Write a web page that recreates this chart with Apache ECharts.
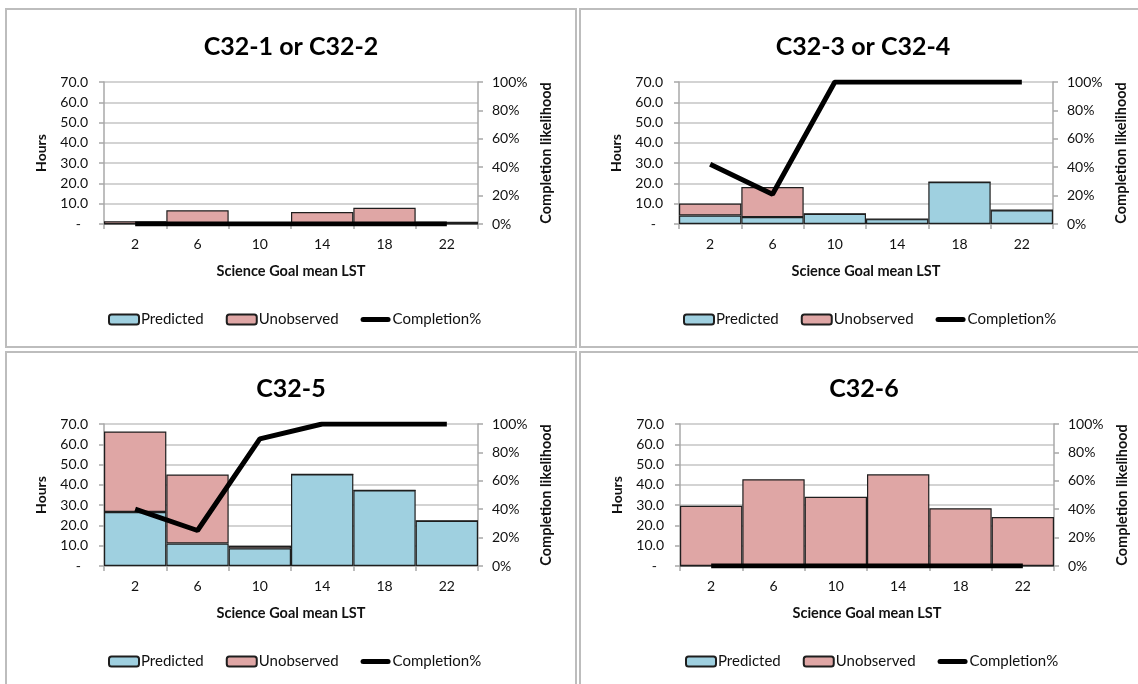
<!DOCTYPE html>
<html>
<head>
<meta charset="utf-8">
<title>Science Goal completion by mean LST</title>
<script src="https://cdn.jsdelivr.net/npm/echarts@6/dist/echarts.min.js"></script>
<style>
  html, body { margin: 0; padding: 0; background: #fff; }
  #chart { width: 1138px; height: 684px; }
</style>
</head>
<body>
<div id="chart"></div>
<script>
// LST bins (hours)
const categories = ['2', '6', '10', '14', '18', '22'];
const panelTitles = ['C32-1 or C32-2', 'C32-3 or C32-4', 'C32-5', 'C32-6'];
const seriesNames = ['Predicted', 'Unobserved', 'Completion%'];

// Hours per bin and completion likelihood (%) for each cycle group
const predicted1  = [0, 0, 0, 0, 0, 0];
const unobserved1 = [1.4, 6.8, 0, 5.9, 8.0, 1.1];
const completion1 = [0, 0, 0, 0, 0, 0];

const predicted2  = [4.2, 3.4, 5.0, 2.4, 20.7, 6.8];
const unobserved2 = [5.9, 14.8, 0, 0, 0, 0];
const completion2 = [42, 21, 100, 100, 100, 100];

const predicted3  = [26.6, 11.1, 8.7, 45.2, 37.3, 22.3];
const unobserved3 = [39.7, 34.0, 1.3, 0, 0, 0];
const completion3 = [40, 25, 89.5, 100, 100, 100];

const predicted4  = [0, 0, 0, 0, 0, 0];
const unobserved4 = [29.7, 42.8, 34.1, 45.2, 28.5, 24.1];
const completion4 = [0, 0, 0, 0, 0, 0];

const panels = [
  { title: panelTitles[0], predicted: predicted1, unobserved: unobserved1, completion: completion1 },
  { title: panelTitles[1], predicted: predicted2, unobserved: unobserved2, completion: completion2 },
  { title: panelTitles[2], predicted: predicted3, unobserved: unobserved3, completion: completion3 },
  { title: panelTitles[3], predicted: predicted4, unobserved: unobserved4, completion: completion4 }
];

// Layout of the 2x2 panel grid
const FONT = 'Lato, "Open Sans", sans-serif';
const boxes = [
  { x: 6,   y: 9,   w: 570, h: 338 },
  { x: 580, y: 9,   w: 570, h: 338 },
  { x: 6,   y: 352, w: 570, h: 340 },
  { x: 580, y: 352, w: 570, h: 340 }
];
const plots = [
  { left: 104, top: 82 },
  { left: 679, top: 82 },
  { left: 104, top: 424 },
  { left: 680, top: 424 }
];
const PLOT_W = 374, PLOT_H = 142;
const legendLefts = [108, 683, 108, 685];

const BLUE = '#9fd0e0';
const PINK = '#dfa6a5';
const EDGE = '#1e1e1e';
const GRID_GRAY = '#c4c4c4';
const AXIS_GRAY = '#a8a8a8';

// thick rounded bar used as the legend key of the completion line
const LINE_KEY = 'path://M2.5,0 L27.5,0 A2.5,2.5 0 0 1 27.5,5 L2.5,5 A2.5,2.5 0 0 1 2.5,0 Z';

const option = {
  animation: false,
  backgroundColor: '#fff',
  textStyle: { fontFamily: FONT },
  title: [],
  legend: [],
  grid: [],
  xAxis: [],
  yAxis: [],
  series: [],
  graphic: boxes.map(b => ({
    type: 'rect',
    shape: { x: b.x, y: b.y, width: b.w, height: b.h },
    style: { fill: 'none', stroke: '#bdbdbd', lineWidth: 2 },
    silent: true
  }))
};

panels.forEach((p, i) => {
  const pl = plots[i];
  const centerX = pl.left + PLOT_W / 2 + (i % 2 === 0 ? 0 : -3);

  option.title.push({
    text: p.title,
    left: centerX,
    textAlign: 'center',
    top: pl.top - 48,
    padding: 0,
    textStyle: { fontFamily: FONT, fontWeight: 'bold', fontSize: 25, color: '#000' }
  });

  option.legend.push({
    left: legendLefts[i],
    top: pl.top + 230,
    padding: 0,
    itemGap: 22,
    itemWidth: 30,
    itemHeight: 10,
    selectedMode: false,
    data: [
      seriesNames[0],
      seriesNames[1],
      { name: seriesNames[2], icon: LINE_KEY, itemStyle: { color: '#000', borderWidth: 0 } }
    ],
    textStyle: { fontFamily: FONT, fontSize: 15, color: '#111', padding: [0, 0, 0, -3] }
  });

  option.grid.push({
    left: pl.left, top: pl.top, width: PLOT_W, height: PLOT_H, containLabel: false
  });

  option.xAxis.push({
    type: 'category',
    gridIndex: i,
    data: categories,
    boundaryGap: true,
    name: 'Science Goal mean LST',
    nameLocation: 'middle',
    nameGap: 40,
    nameTextStyle: { fontFamily: FONT, fontWeight: 'bold', fontSize: 14.5, color: '#111' },
    axisLine: { lineStyle: { color: AXIS_GRAY, width: 1.5 } },
    axisTick: { show: true, length: 5, lineStyle: { color: AXIS_GRAY, width: 1.5 } },
    axisLabel: { margin: 13, fontFamily: FONT, fontSize: 14, color: '#111' },
    splitLine: { show: false }
  });

  option.yAxis.push({
    type: 'value',
    gridIndex: i,
    position: 'left',
    min: 0, max: 70, interval: 10,
    name: 'Hours',
    nameLocation: 'middle',
    nameRotate: 90,
    nameGap: 56,
    nameTextStyle: { fontFamily: FONT, fontWeight: 'bold', fontSize: 14, color: '#111' },
    axisLine: { show: true, lineStyle: { color: AXIS_GRAY, width: 1.5 } },
    axisTick: { show: true, length: 5, lineStyle: { color: AXIS_GRAY, width: 1.5 } },
    axisLabel: {
      margin: 16, fontFamily: FONT, fontSize: 14, color: '#111',
      formatter: v => (v === 0 ? '-  ' : v.toFixed(1))
    },
    splitLine: { show: true, lineStyle: { color: GRID_GRAY, width: 1.5 } }
  });

  option.yAxis.push({
    type: 'value',
    gridIndex: i,
    position: 'right',
    min: 0, max: 100, interval: 20,
    alignTicks: false,
    name: 'Completion likelihood',
    nameLocation: 'middle',
    nameRotate: 90,
    nameGap: 61,
    nameTextStyle: { fontFamily: FONT, fontWeight: 'bold', fontSize: 14.5, color: '#111' },
    axisLine: { show: true, lineStyle: { color: AXIS_GRAY, width: 1.5 } },
    axisTick: { show: true, length: 5, lineStyle: { color: AXIS_GRAY, width: 1.5 } },
    axisLabel: {
      margin: 14, fontFamily: FONT, fontSize: 14, color: '#111',
      formatter: v => v + '%'
    },
    splitLine: { show: false }
  });

  const stack = 'hours' + i;
  option.series.push({
    name: seriesNames[0],
    type: 'bar',
    xAxisIndex: i, yAxisIndex: 2 * i,
    stack: stack,
    barWidth: '100%',
    data: p.predicted,
    itemStyle: { color: BLUE, borderColor: EDGE, borderWidth: 1.2 },
    z: 2
  });
  option.series.push({
    name: seriesNames[1],
    type: 'bar',
    xAxisIndex: i, yAxisIndex: 2 * i,
    stack: stack,
    barWidth: '100%',
    data: p.unobserved,
    itemStyle: { color: PINK, borderColor: EDGE, borderWidth: 1.2 },
    z: 2
  });
  option.series.push({
    name: seriesNames[2],
    type: 'line',
    xAxisIndex: i, yAxisIndex: 2 * i + 1,
    data: p.completion,
    symbol: 'none',
    showSymbol: false,
    itemStyle: { color: '#000' },
    lineStyle: { color: '#000', width: 5 },
    z: 5
  });
});

const chart = echarts.init(document.getElementById('chart'), null, { renderer: 'canvas' });
chart.setOption(option);
</script>
</body>
</html>
